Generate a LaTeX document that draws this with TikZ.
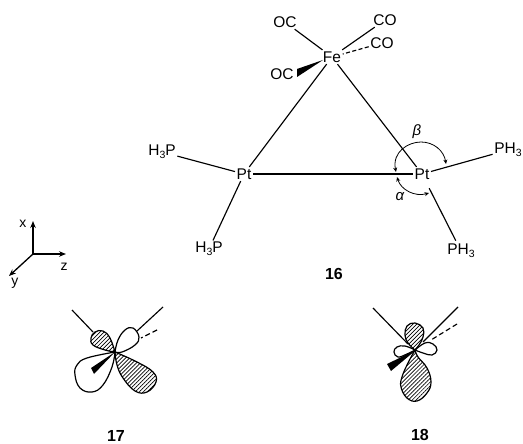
\documentclass[tikz,border=0pt]{standalone}
\usepackage{fontspec}
\setmainfont{Liberation Sans}
\usetikzlibrary{patterns.meta,arrows.meta}
\newcommand{\lowthree}{\raisebox{-3pt}{\fontsize{10.5}{10.5}\selectfont 3}}
\tikzset{
  atom/.style={inner sep=1.5pt,font=\fontsize{15.5}{16}\selectfont},
  axislabel/.style={inner sep=0pt,font=\fontsize{14}{14}\selectfont},
  greek/.style={inner sep=0pt,font=\fontsize{15}{15}\itshape\selectfont},
  numlabel/.style={inner sep=0pt,font=\fontsize{16}{16}\bfseries\selectfont},
  bond/.style={line width=1.15pt},
  hatched/.style={draw=black,line width=1.2pt,line join=round,pattern={Lines[angle=45,distance=2.8pt,line width=.7pt]},pattern color=black},
  plainlobe/.style={draw=black,line width=1.2pt,line join=round,fill=white},
  tipped/.style={line width=.8pt,{Stealth[length=4.5pt,width=4pt]}-{Stealth[length=4.5pt,width=4pt]}},
  axis/.style={line width=1.3pt,-{Stealth[length=7pt,width=5.5pt]}}
}
\begin{document}
\begin{tikzpicture}[x=1pt,y=-1pt]
\useasboundingbox (0,0) rectangle (523,444);
% complex 16
\node[atom] (fe) at (332,57) {Fe};
\node[atom] (ptl) at (244,174) {Pt};
\node[atom] (ptr) at (422,174) {Pt};
\node[atom] (octop) at (285,22) {OC};
\node[atom] (cotop) at (385,20) {CO};
\node[atom] (comid) at (382,43) {CO};
\node[atom] (ocbot) at (282,74) {OC};
\node[atom] (hl) at (162,152) {H\lowthree P};
\node[atom] (hb) at (209,249) {H\lowthree P};
\node[atom] (pr) at (508,150) {PH\lowthree};
\node[atom] (pb) at (461,251) {PH\lowthree};
\node[numlabel] (n16) at (334,274) {16};
\draw[bond] (octop) -- (fe);
\draw[bond] (cotop) -- (fe);
\draw[bond,dash pattern=on 4pt off 2.5pt] (comid) -- (fe);
\fill (323,60) -- (297,69) -- (297,77) -- cycle;
\draw[bond] (fe) -- (ptl);
\draw[bond] (fe) -- (ptr);
\draw[line width=1.2pt] (ptl) -- (ptr);
\draw[bond] (hl) -- (ptl);
\draw[bond] (ptl) -- (hb);
\draw[bond] (ptr) -- (pr);
\draw[bond,shorten <=8pt,shorten >=2pt] (ptr) -- (pb);
% angles
\coordinate (ba) at (396,172);
\coordinate (bb) at (446,164);
\coordinate (aa) at (397,177);
\coordinate (ab) at (429,193);
\draw[tipped] (ba) .. controls (392,152) and (408,142) .. (421,142) .. controls (434,142) and (444,151) .. (bb);
\draw[tipped] (aa) .. controls (401,190) and (415,197) .. (ab);
\node[greek] (beta) at (417,132) {β};
\node[greek] (alpha) at (400,197) {α};
% axes
\coordinate (o) at (33,254);
\node[axislabel] (xl) at (23,224) {x};
\node[axislabel] (yl) at (15,283) {y};
\node[axislabel] (zl) at (64,267) {z};
\coordinate (xe) at (33,221);
\coordinate (ze) at (66,254);
\coordinate (ye) at (9,276);
\draw[axis] (o) -- (xe);
\draw[axis] (o) -- (ze);
\draw[axis] (o) -- (ye);
% orbital 17
\coordinate (c17) at (115,352);
\coordinate (l17a) at (72,310);
\coordinate (l17b) at (93,332);
\coordinate (r17a) at (163,307);
\coordinate (r17b) at (137,331);
\coordinate (d17a) at (157,330);
\coordinate (d17b) at (141,338);
\draw[bond] (l17a) -- (l17b);
\draw[bond] (r17a) -- (r17b);
\draw[bond,dash pattern=on 5pt off 3pt] (d17a) -- (d17b);
\path[plainlobe] plot[smooth,tension=.7] coordinates {(c17) (118,340) (125,330) (133,328) (139,337) (135,345) (122,352) (c17)} -- cycle;
\path[hatched] plot[smooth,tension=.7] coordinates {(c17) (105,350) (93,345) (91,338) (95,332) (103,331) (110,338) (c17)} -- cycle;
\path[plainlobe] plot[smooth,tension=.7] coordinates {(c17) (87,358) (77,365) (75,375) (80,388) (92,392) (103,385) (112,367) (c17)} -- cycle;
\path[hatched] plot[smooth,tension=.7] coordinates {(c17) (137,362) (153,372) (156,382) (147,392) (135,391) (123,378) (117,365) (c17)} -- cycle;
\fill (115,352) -- (91,368) -- (94,374) -- cycle;
\node[numlabel] (n17) at (116,435.5) {17};
% orbital 18
\coordinate (c18) at (415,350);
\coordinate (l18a) at (373,308);
\coordinate (l18b) at (408,344);
\coordinate (r18a) at (458,307);
\coordinate (r18b) at (423,342);
\coordinate (d18a) at (457,324);
\coordinate (d18b) at (431,340);
\draw[bond] (l18a) -- (l18b);
\draw[bond] (r18a) -- (r18b);
\draw[bond,dash pattern=on 5pt off 3pt] (d18a) -- (d18b);
\path[plainlobe] plot[smooth,tension=.7] coordinates {(c18) (405,346) (397,347) (394,352) (398,357) (407,354) (c18)} -- cycle;
\path[plainlobe] plot[smooth,tension=.7] coordinates {(c18) (425,343) (433,344) (437,350) (432,355) (423,353) (c18)} -- cycle;
\path[hatched] plot[smooth,tension=.7] coordinates {(c18) (408,343) (405,335) (407,326) (415,323) (423,328) (423,337) (419,345) (c18)} -- cycle;
\path[hatched] plot[smooth,tension=.7] coordinates {(c18) (408,363) (402,377) (401,387) (407,398) (417,401) (427,393) (431,382) (427,368) (418,357) (c18)} -- cycle;
\fill (416,350) -- (387,364) -- (391,371) -- cycle;
\node[numlabel] (n18) at (420,435) {18};
\end{tikzpicture}
\end{document}
